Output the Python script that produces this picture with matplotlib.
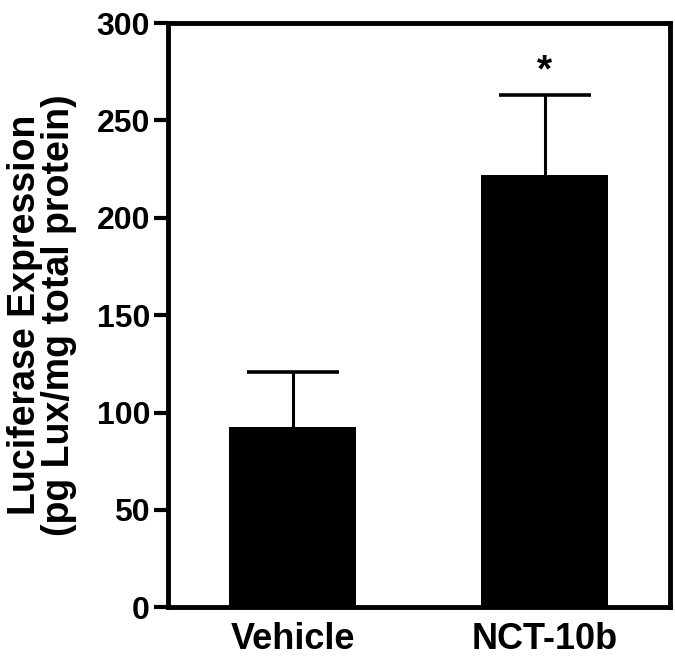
import numpy as np
import matplotlib.pyplot as plt

plt.rcParams['font.family'] = ['Liberation Sans', 'DejaVu Sans']
plt.rcParams['font.weight'] = 'bold'

groups = ['Vehicle', 'NCT-10b']
means = [92.5, 222]
errors = [28.5, 41]
sig_marks = ['', '*']

fig = plt.figure(figsize=(6.75, 6.6), dpi=100)
ax = fig.add_axes([0.249, 0.080, 0.744, 0.885])

x = np.arange(len(groups))
ax.bar(x, means, width=0.504, color='black', zorder=2)
# symmetric bars drawn behind the columns, so only the upper half shows
ax.errorbar(x, means, yerr=errors, fmt='none',
            ecolor='black', elinewidth=2.2, capsize=33, capthick=2.6, zorder=1)

for xi, m, e, s in zip(x, means, errors, sig_marks):
    if s:
        ax.text(xi, m + e + 12, s, ha='center', va='center', fontsize=28, fontweight='bold')

ax.set_xlim(-0.494, 1.498)
ax.set_ylim(0, 300)
ax.set_yticks(np.arange(0, 301, 50))
ax.set_xticks(x)
ax.set_xticklabels(groups, fontsize=26, fontweight='bold')
ax.tick_params(axis='y', labelsize=23, width=3, length=10, pad=3, direction='out')
ax.tick_params(axis='x', length=0, pad=11)
for lbl in ax.get_yticklabels():
    lbl.set_fontweight('bold')

for sp in ax.spines.values():
    sp.set_linewidth(3.5)

ax.set_ylabel('Luciferase Expression\n(pg Lux/mg total protein)', fontsize=27,
              fontweight='bold', labelpad=14, linespacing=0.92)

fig.savefig('out.png', dpi=100)
